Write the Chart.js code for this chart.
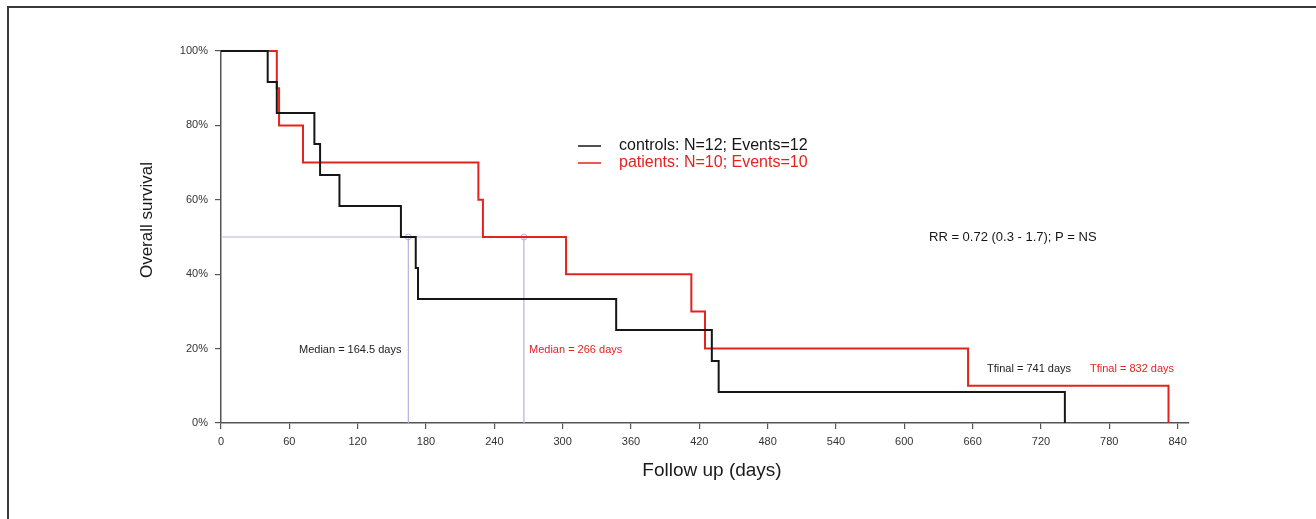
<!DOCTYPE html>
<html>
<head>
<meta charset="utf-8">
<script src="https://cdn.jsdelivr.net/npm/chart.js@4"></script>
<style>
  body { margin: 0; background: #fff; }
  #wrap { position: relative; width: 1316px; height: 519px; }
</style>
</head>
<body>
<div id="wrap"><canvas id="km-chart"></canvas></div>
<script>
// Kaplan-Meier steps (days, survival %)
const controlDays = [0, 41, 49, 82, 87, 104, 158, 171, 173, 347, 431, 437, 741]
const controlSurvival = [100, 91.7, 83.3, 75, 66.7, 58.3, 50, 41.7, 33.3, 25, 16.7, 8.3, 0]
const patientDays = [0, 49, 51, 72, 226, 230, 303, 413, 425, 656, 832]
const patientSurvival = [100, 90, 80, 70, 60, 50, 40, 30, 20, 10, 0]

const medianControl = 164.5
const medianPatient = 266
const medianLevel = 50

const xTicks = [0, 60, 120, 180, 240, 300, 360, 420, 480, 540, 600, 660, 720, 780, 840]
const yTicks = [0, 20, 40, 60, 80, 100]

const RED = '#e3231c'
const BLACK = '#161616'
const LAVENDER = '#b9b1de'
const AXIS = '#555'
const FONT = '"Liberation Sans", Arial, sans-serif'

function toPoints(xs, ys) {
    return xs.map((x, i) => ({ x: x, y: ys[i] }))
}

const extraText = {
    id: 'extraText',
    beforeDraw(chart) {
        const ctx = chart.ctx
        ctx.save()
        ctx.fillStyle = '#3a3a3a'
        ctx.fillRect(7, 6, chart.width, 2)
        ctx.fillRect(7, 6, 2, chart.height)
        ctx.restore()
    },
    afterDraw(chart) {
        const ctx = chart.ctx
        ctx.save()
        ctx.textBaseline = 'middle'

        // axis titles
        ctx.fillStyle = '#1a1a1a'
        ctx.textAlign = 'center'
        ctx.font = '19px ' + FONT
        ctx.fillText('Follow up (days)', 712, 471)
        ctx.save()
        ctx.translate(147, 220)
        ctx.rotate(-Math.PI / 2)
        ctx.font = '17px ' + FONT
        ctx.fillText('Overall survival', 0, 0)
        ctx.restore()

        ctx.textAlign = 'left'
        // legend
        ctx.lineWidth = 1.5
        ctx.strokeStyle = BLACK
        ctx.beginPath(); ctx.moveTo(578, 146); ctx.lineTo(601, 146); ctx.stroke()
        ctx.strokeStyle = RED
        ctx.beginPath(); ctx.moveTo(578, 163); ctx.lineTo(601, 163); ctx.stroke()
        ctx.font = '16px ' + FONT
        ctx.fillStyle = BLACK
        ctx.fillText('controls: N=12; Events=12', 619, 146)
        ctx.fillStyle = RED
        ctx.fillText('patients: N=10; Events=10', 619, 163)

        ctx.font = '13px ' + FONT
        ctx.fillStyle = BLACK
        ctx.fillText('RR = 0.72 (0.3 - 1.7); P = NS', 929, 237)

        ctx.font = '11px ' + FONT
        ctx.fillStyle = '#222'
        ctx.fillText('Median = 164.5 days', 299, 350)
        ctx.fillText('Tfinal = 741 days', 987, 369)
        ctx.fillStyle = RED
        ctx.fillText('Median = 266 days', 529, 350)
        ctx.fillText('Tfinal = 832 days', 1090, 369)
        ctx.restore()
    }
}

const ctx = document.getElementById('km-chart').getContext('2d')
const km_chart = new Chart(ctx, {
    type: 'line',
    data: {
        datasets: [
            {
                label: 'controls',
                data: toPoints(controlDays, controlSurvival),
                borderColor: BLACK,
                borderWidth: 2,
                stepped: true,
                pointRadius: 0,
                clip: 4
            },
            {
                label: 'patients',
                data: toPoints(patientDays, patientSurvival),
                borderColor: RED,
                borderWidth: 2,
                stepped: true,
                pointRadius: 0,
                clip: 4
            },
            {
                label: 'median level',
                data: [{ x: 0, y: medianLevel }, { x: medianPatient, y: medianLevel }],
                borderColor: LAVENDER,
                borderWidth: 1,
                pointRadius: 0
            },
            {
                label: 'median controls',
                data: [{ x: medianControl, y: medianLevel }, { x: medianControl, y: 0 }],
                borderColor: LAVENDER,
                borderWidth: 1.2,
                pointRadius: [3, 0],
                pointBorderColor: LAVENDER,
                pointBackgroundColor: 'rgba(0,0,0,0)',
                pointBorderWidth: 1
            },
            {
                label: 'median patients',
                data: [{ x: medianPatient, y: medianLevel }, { x: medianPatient, y: 0 }],
                borderColor: LAVENDER,
                borderWidth: 1.2,
                pointRadius: [3, 0],
                pointBorderColor: LAVENDER,
                pointBackgroundColor: 'rgba(0,0,0,0)',
                pointBorderWidth: 1
            }
        ]
    },
    options: {
        responsive: true,
        maintainAspectRatio: false,
        animation: false,
        layout: { padding: { top: 51, right: 127, bottom: 0, left: 0 } },
        plugins: {
            legend: { display: false },
            tooltip: { enabled: false }
        },
        scales: {
            x: {
                type: 'linear',
                min: 0,
                max: 850,
                afterBuildTicks: s => { s.ticks = xTicks.map(v => ({ value: v })) },
                afterFit: s => { s.height = 96 },
                border: { color: AXIS, width: 1.5 },
                grid: { drawOnChartArea: false, color: AXIS, tickLength: 6, lineWidth: 1.2 },
                ticks: {
                    color: '#333',
                    padding: 6,
                    maxRotation: 0,
                    font: { family: FONT, size: 11 }
                }
            },
            y: {
                min: 0,
                max: 100,
                afterBuildTicks: s => { s.ticks = yTicks.map(v => ({ value: v })) },
                afterFit: s => { s.width = 221 },
                border: { color: AXIS, width: 1.5 },
                grid: { drawOnChartArea: false, color: AXIS, tickLength: 6, lineWidth: 1.2 },
                ticks: {
                    color: '#333',
                    padding: 7,
                    callback: v => v + '%',
                    font: { family: FONT, size: 11 }
                }
            }
        }
    },
    plugins: [extraText]
})
</script>
</body>
</html>
